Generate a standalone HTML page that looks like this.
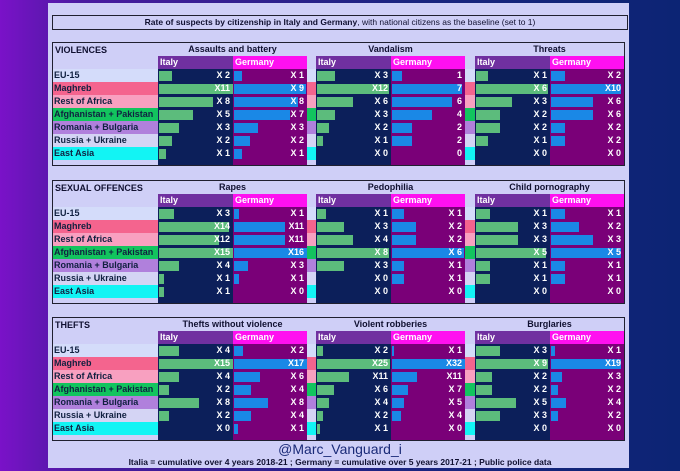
<!DOCTYPE html>
<html><head><meta charset="utf-8">
<style>
body{margin:0;width:680px;height:471px;overflow:hidden;background:linear-gradient(90deg,#7a12c8 0%,#4a1aa0 12%,#1a2480 60%,#0c2474 100%);font-family:"Liberation Sans",sans-serif;}
#panel{position:absolute;left:48px;top:3px;width:581px;height:465px;background:#cfcff7;}
.abs{position:absolute;}
.box{position:absolute;border:1.5px solid #202030;box-sizing:border-box;}
.t{position:absolute;font-weight:bold;font-size:9px;white-space:nowrap;line-height:13px;}
</style></head><body>
<div id="panel"></div>
<div class="box" style="left:52px;top:15px;width:576px;height:15px;"></div>
<div class="t" style="left:52px;top:16px;width:576px;text-align:center;font-size:8.5px;color:#101030;">Rate of suspects by citizenship in Italy and Germany<span style="font-weight:normal">, with national citizens as the baseline (set to 1)</span></div>
<div class="t" style="left:0;top:441px;width:680px;text-align:center;font-size:14px;line-height:16px;color:#1a2a78;font-weight:normal;">@Marc_Vanguard_i</div>
<div class="t" style="left:0;top:456px;width:680px;text-align:center;font-size:8.5px;color:#101030;">Italia = cumulative over 4 years 2018-21 ; Germany = cumulative over 5 years 2017-21 ; Public police data</div>
<div id="root"></div>
<script>
const categories=["EU-15","Maghreb","Rest of Africa","Afghanistan + Pakistan","Romania + Bulgaria","Russia + Ukraine","East Asia"];
const sections=["VIOLENCES","SEXUAL OFFENCES","THEFTS"];
const chartTitles=["Assaults and battery","Vandalism","Threats","Rapes","Pedophilia","Child pornography","Thefts without violence","Violent robberies","Burglaries"];
const italyValues=[
[2,11,8,5,3,2,1],[3,12,6,3,2,1,0],[1,6,3,2,2,1,0],
[3,14,12,15,4,1,1],[1,3,4,8,3,0,0],[1,3,3,5,1,1,0],
[4,15,4,2,8,2,0],[2,25,11,6,4,2,1],[3,9,2,2,5,3,0]];
const germanyValues=[
[1,9,8,7,3,2,1],[1,7,6,4,2,2,0],[2,10,6,6,2,2,0],
[1,11,11,16,3,1,0],[1,2,2,6,1,1,0],[1,2,3,5,1,1,0],
[2,17,6,4,8,4,1],[1,32,11,7,5,4,0],[1,19,3,2,4,2,0]];
const germanyPrefix=[true,false,true,true,true,true,true,true,true];
// visual scale (px per unit) per chart
const itScale=[6.7,6,12,5,9,14,5,2.9,8];
const deScale=[8,10,7,4.6,12,14,4.3,2.3,3.7];
const rowColors=["#d4dcfa","#f4648e","#f8a0c0","#12c45e","#b080dc","#d4d4f4","#12f4f4"];
const secTop=[42,180,317];
const panX=[158,316,475];
const IW=75,GW=74,RH=13;
const root=document.getElementById('root');
function mk(css,cls){const d=document.createElement('div');d.className=cls||'abs';d.style.cssText=css;root.appendChild(d);return d;}
function lab(v,pre){if(!pre)return String(v);return v>=10?"X"+v:"X "+v;}
sections.forEach((s,si)=>{
  const top=secTop[si];const rowsTop=top+27;const bottom=rowsTop+7*RH+6;
  // row backgrounds
  categories.forEach((c,ri)=>{
    const y=rowsTop+ri*RH;
    const r=mk(`left:52px;top:${y}px;width:572px;height:${RH}px;background:${rowColors[ri]};`);
    
    
    const l=mk(`left:54px;top:${y}px;color:#102040;`,'t');l.textContent=c;
    
    
  });
  const bx=mk(`left:52px;top:${top}px;width:573px;height:${bottom-top}px;`,'box');
  
  
  const st=mk(`left:55px;top:${top+2}px;color:#101030;`,'t');st.textContent=s;
  
  
  for(let p=0;p<3;p++){
    const ci=si*3+p;const x=panX[p];
    const ct=mk(`left:${x}px;top:${top+1}px;width:${IW+GW}px;text-align:center;color:#101030;`,'t');ct.textContent=chartTitles[ci];
    
    
    const hi=mk(`left:${x}px;top:${top+14}px;width:${IW}px;height:13px;background:#7030a0;color:#fff;text-indent:2px;`,'t');hi.textContent="Italy";
    
    
    const hg=mk(`left:${x+IW}px;top:${top+14}px;width:${GW}px;height:13px;background:#ff10f0;color:#fff;text-indent:2px;`,'t');hg.textContent="Germany";
    
    
    const ci1=mk(`left:${x}px;top:${rowsTop}px;width:${IW}px;height:${bottom-rowsTop-1}px;background:#0c1f5a;`);
    
    
    const cg=mk(`left:${x+IW}px;top:${rowsTop}px;width:${GW}px;height:${bottom-rowsTop-1}px;background:#7a0078;`);
    
    
    categories.forEach((c,ri)=>{
      const y=rowsTop+ri*RH;
      const iv=italyValues[ci][ri],gv=germanyValues[ci][ri];
      let iw=Math.min(iv*itScale[ci],IW-1);let gw=Math.min(gv*deScale[ci],GW-1);
      if(iw>0){const b=mk(`left:${x+1}px;top:${y+2}px;width:${iw}px;height:${RH-3}px;background:#5cbc7c;`);
        
        }
      if(gw>0){const b=mk(`left:${x+IW+1}px;top:${y+2}px;width:${gw}px;height:${RH-3}px;background:#1a88e6;`);
        
        }
      const a=mk(`left:${x}px;top:${y}px;width:${IW-3}px;text-align:right;color:#fff;`,'t');a.textContent=lab(iv,true);
      
      
      const g=mk(`left:${x+IW}px;top:${y}px;width:${GW-3}px;text-align:right;color:#fff;`,'t');g.textContent=lab(gv,germanyPrefix[ci]);
      
      
    });
  }
});
</script>
</body></html>
